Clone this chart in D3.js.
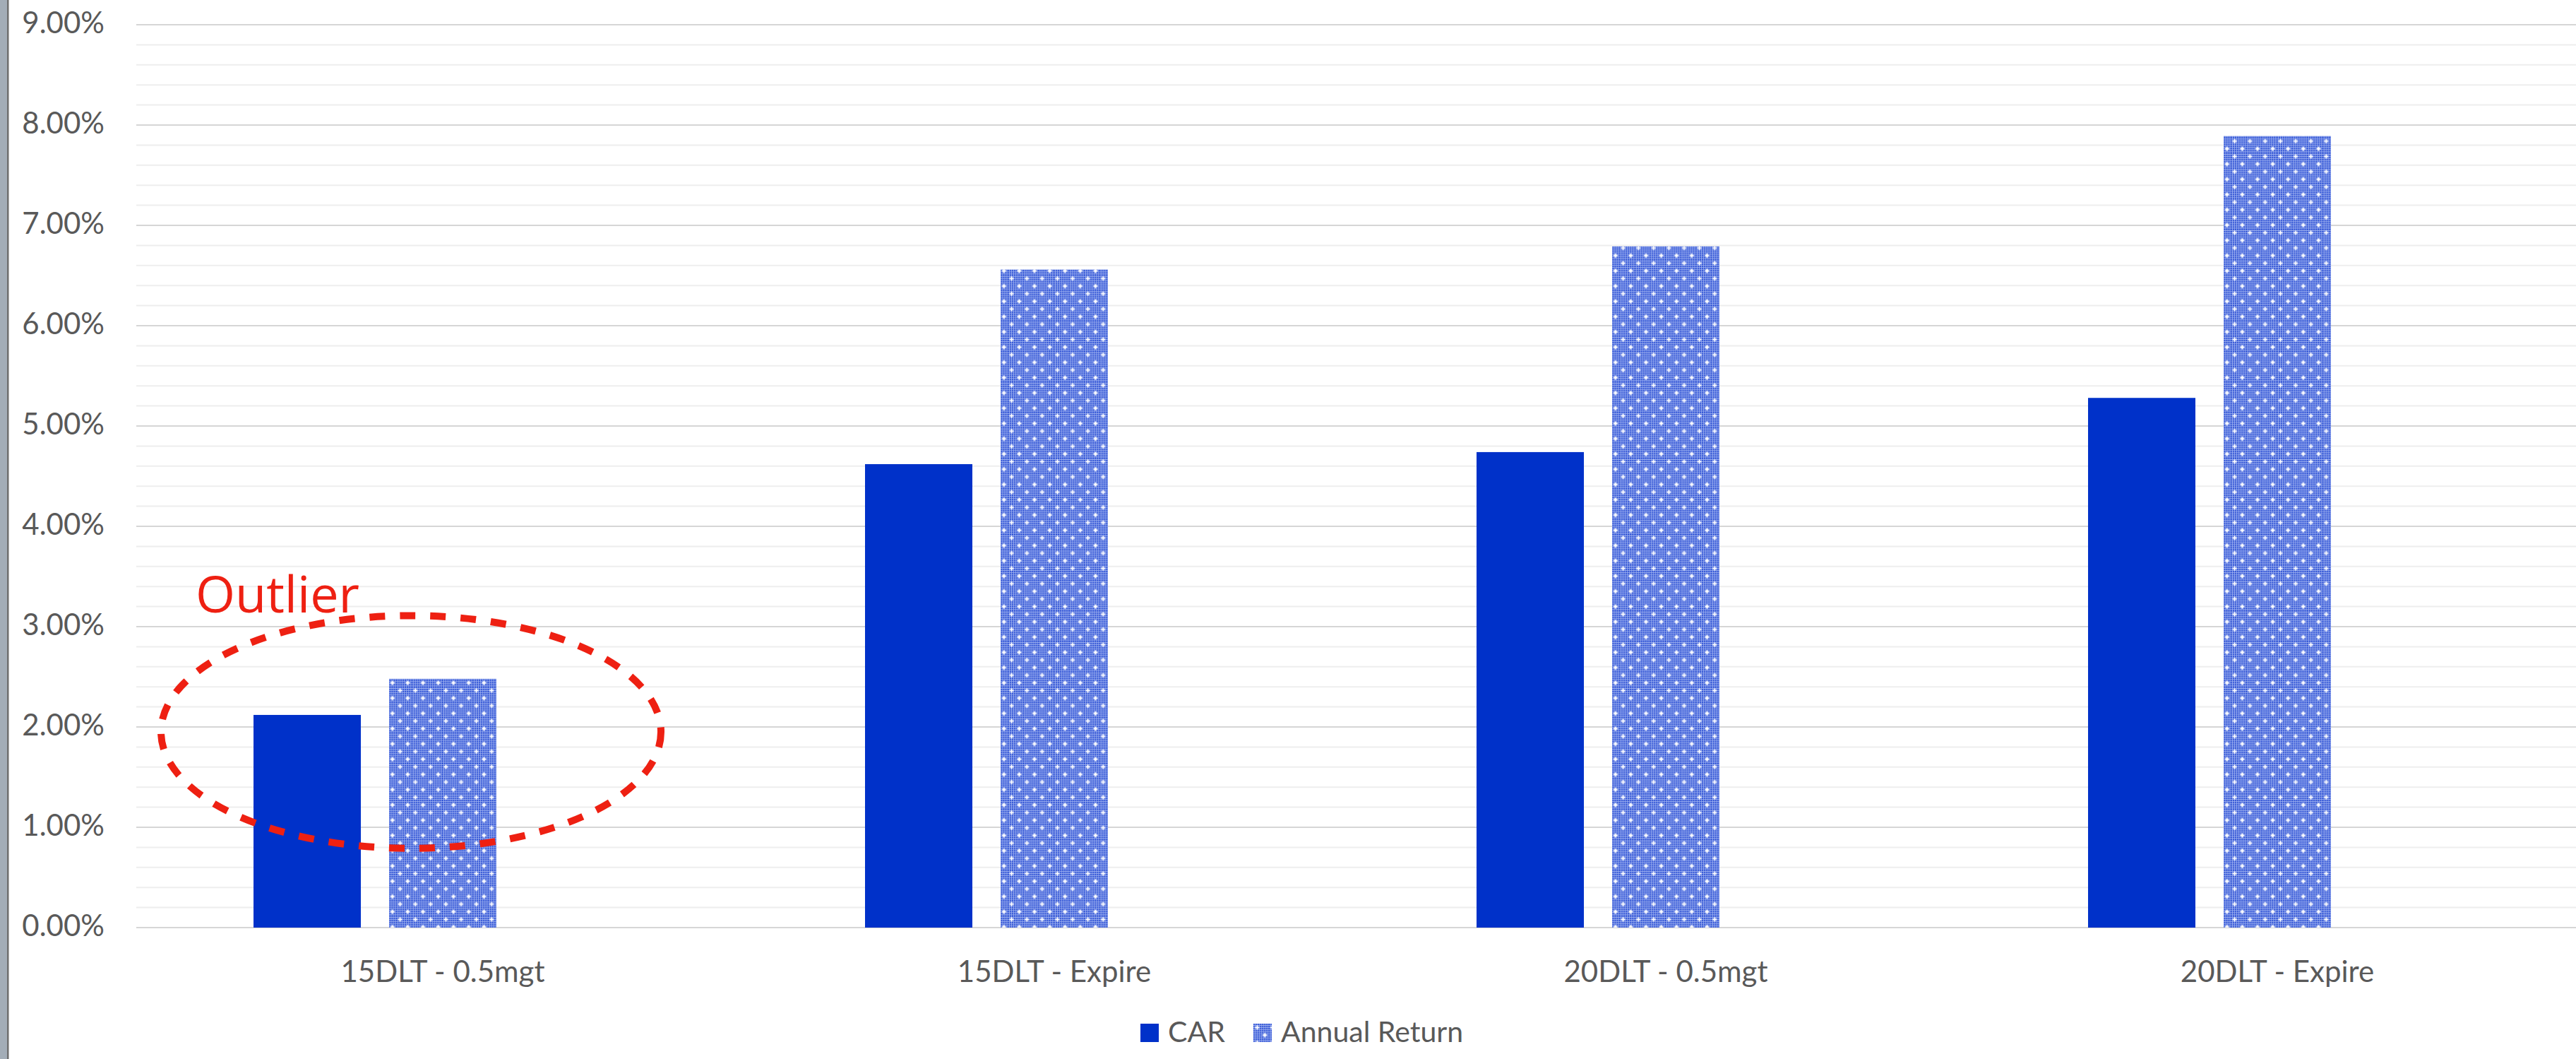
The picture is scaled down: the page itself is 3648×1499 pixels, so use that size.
<!DOCTYPE html>
<html>
<head>
<meta charset="utf-8">
<script src="https://cdn.jsdelivr.net/npm/d3@7"></script>
<style>
  body { margin: 0; background: #fff; }
  svg { display: block; }
</style>
</head>
<body>
<script>
// data
var categories = ["15DLT - 0.5mgt", "15DLT - Expire", "20DLT - 0.5mgt", "20DLT - Expire"];
var seriesNames = ["CAR", "Annual Return"];
var carValues = [0.0212, 0.0462, 0.0474, 0.0528];
var annualValues = [0.0248, 0.0656, 0.0679, 0.0789];
var majorTicks = [0, 0.01, 0.02, 0.03, 0.04, 0.05, 0.06, 0.07, 0.08, 0.09];
var minorTicks = d3.range(0, 46).map(function(i) { return i * 0.002; });
var outlierNote = { category: "15DLT - 0.5mgt", value: 0.0195, spread: 0.0116, label: "Outlier" };

var W = 3648, H = 1499;
var plotLeft = 194, band = 866, plotBottom = 1313, plotTop = 35;
var textGrey = "#595959";

var svg = d3.select("body").append("svg")
  .attr("width", W)
  .attr("height", H);

var defs = svg.append("defs");
// fine blue mesh
var mesh = defs.append("pattern")
  .attr("id", "mesh")
  .attr("width", 3).attr("height", 3)
  .attr("patternUnits", "userSpaceOnUse");
mesh.append("rect").attr("width", 3).attr("height", 3).attr("fill", "#a9baf2");
mesh.append("rect").attr("width", 2).attr("height", 2).attr("fill", "#2348d2");

// mesh plus white crosses, staggered
var conf = defs.append("pattern")
  .attr("id", "confetti")
  .attr("width", 21.6).attr("height", 21.6)
  .attr("patternUnits", "userSpaceOnUse");
conf.append("rect").attr("width", 21.6).attr("height", 21.6).attr("fill", "url(#mesh)");
[[5.4, 5.4], [16.2, 16.2]].forEach(function(c) {
  conf.append("rect").attr("x", c[0] - 3).attr("y", c[1] - 1).attr("width", 6).attr("height", 2).attr("fill", "#fff");
  conf.append("rect").attr("x", c[0] - 1).attr("y", c[1] - 3).attr("width", 2).attr("height", 6).attr("fill", "#fff");
});

var fills = { "CAR": "#0031c9", "Annual Return": "url(#confetti)" };

var x = d3.scaleBand()
  .domain(categories)
  .range([plotLeft, plotLeft + band * categories.length]);

var x1 = d3.scaleBand()
  .domain(seriesNames)
  .range([165, 509])
  .paddingInner(0.2083);

var y = d3.scaleLinear()
  .domain([0, 0.09])
  .range([plotBottom, plotTop]);

// left window border
svg.append("rect").attr("x", 0).attr("y", 0).attr("width", 10).attr("height", H).attr("fill", "#a3adb7");
svg.append("rect").attr("x", 10).attr("y", 0).attr("width", 2.5).attr("height", H).attr("fill", "#6f6f6f");

// minor gridlines
svg.append("g").selectAll("line")
  .data(minorTicks)
  .enter().append("line")
  .attr("x1", plotLeft - 1).attr("x2", W)
  .attr("y1", function(d) { return y(d); })
  .attr("y2", function(d) { return y(d); })
  .attr("stroke", "#eeeeee")
  .attr("stroke-width", 2);

// major gridlines
svg.append("g").selectAll("line")
  .data(majorTicks)
  .enter().append("line")
  .attr("x1", plotLeft - 1).attr("x2", W)
  .attr("y1", function(d) { return y(d); })
  .attr("y2", function(d) { return y(d); })
  .attr("stroke", "#d6d6d6")
  .attr("stroke-width", 2.2);

// y labels
var fmt = d3.format(".2%");
svg.append("g").selectAll("text")
  .data(majorTicks)
  .enter().append("text")
  .attr("x", 148)
  .attr("y", function(d) { return y(d) + 12; })
  .attr("text-anchor", "end")
  .attr("font-family", "Lato, sans-serif")
  .attr("font-size", 42)
  .attr("fill", textGrey)
  .text(function(d) { return fmt(d); });

// bars
var rows = categories.map(function(c, i) {
  return { cat: c, vals: [{ s: "CAR", v: carValues[i] }, { s: "Annual Return", v: annualValues[i] }] };
});

var groups = svg.append("g").selectAll("g")
  .data(rows)
  .enter().append("g")
  .attr("transform", function(d) { return "translate(" + x(d.cat) + ",0)"; });

groups.selectAll("rect")
  .data(function(d) { return d.vals; })
  .enter().append("rect")
  .attr("x", function(d) { return x1(d.s); })
  .attr("width", x1.bandwidth())
  .attr("y", function(d) { return y(d.v); })
  .attr("height", function(d) { return y(0) - y(d.v); })
  .attr("fill", function(d) { return fills[d.s]; });

// x labels
svg.append("g").selectAll("text")
  .data(categories)
  .enter().append("text")
  .attr("x", function(d) { return x(d) + x.bandwidth() / 2; })
  .attr("y", plotBottom + 77)
  .attr("text-anchor", "middle")
  .attr("font-family", "Lato, sans-serif")
  .attr("font-size", 42)
  .attr("fill", textGrey)
  .text(function(d) { return d; });

// outlier annotation
var ocx = x(outlierNote.category) + x.bandwidth() / 2 - 45;
svg.append("ellipse")
  .attr("cx", ocx)
  .attr("cy", y(outlierNote.value))
  .attr("rx", 354)
  .attr("ry", y(0) - y(outlierNote.spread))
  .attr("fill", "none")
  .attr("stroke", "#ee2012")
  .attr("stroke-width", 10)
  .attr("stroke-dasharray", "22 21");

svg.append("text")
  .attr("x", ocx - 305)
  .attr("y", y(outlierNote.value + outlierNote.spread) - 4)
  .attr("font-family", "'Open Sans', sans-serif")
  .attr("font-size", 72)
  .attr("fill", "#ee2012")
  .text(outlierNote.label);

// legend
var legendPos = [1615, 1775];
var legend = svg.append("g").selectAll("g")
  .data(seriesNames)
  .enter().append("g")
  .attr("transform", function(d, i) { return "translate(" + legendPos[i] + ",1449)"; });

legend.append("rect")
  .attr("width", 26).attr("height", 26)
  .attr("fill", function(d) { return fills[d]; });

legend.append("text")
  .attr("x", 39)
  .attr("y", 26)
  .attr("font-family", "Lato, sans-serif")
  .attr("font-size", 41)
  .attr("fill", textGrey)
  .text(function(d) { return d; });
</script>
</body>
</html>
